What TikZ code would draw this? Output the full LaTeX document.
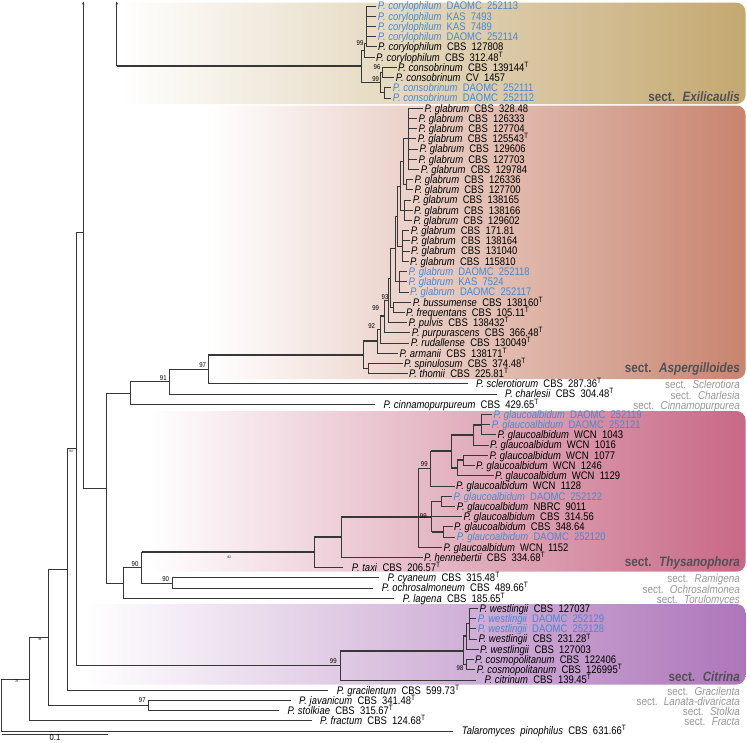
\documentclass[tikz,border=0pt]{standalone}
\usepackage{xcolor}
\usepackage{fontspec}
\setmainfont{Liberation Sans}[FakeStretch=0.86,WordSpace=2]
\usepackage{tikz}
\usetikzlibrary{arrows.meta}

\definecolor{branchcol}{RGB}{55,55,55}
\definecolor{cultblue}{RGB}{72,136,206}
\definecolor{secdark}{RGB}{80,80,85}
\definecolor{secgrey}{RGB}{150,150,150}
\definecolor{exilcol}{RGB}{196,168,112}
\definecolor{aspcol}{RGB}{200,132,110}
\definecolor{thyscol}{RGB}{200,104,134}
\definecolor{citcol}{RGB}{174,118,186}

% 行号 -> 纵坐标
\newcommand\ry[1]{6+10.21*(#1)}
\newcommand\pen[1]{\textit{P.\hspace{.25em}#1}}
\newcommand\typ{\textsuperscript{T}}

\begin{document}
\begin{tikzpicture}[
    x=1pt, y=-1pt,
    br/.style={draw=branchcol, line width=0.7pt},
    brk/.style={draw=branchcol, line width=2pt},
    tip/.style={anchor=west, inner xsep=1.5pt, inner ysep=0pt, text height=7.9pt, text depth=0pt, font=\fontsize{11}{12}\selectfont},
    tipb/.style={tip, text=cultblue},
    boot/.style={inner sep=0pt, font=\fontsize{7}{8}\selectfont},
    bootmini/.style={inner sep=0pt, font=\fontsize{3.5}{4}\selectfont},
    secbig/.style={anchor=east, inner sep=0pt, text height=9.7pt, text depth=0pt, text=secdark, font=\fontsize{13.6}{15}\selectfont\bfseries},
    secsmall/.style={anchor=east, inner sep=0pt, text height=8.2pt, text depth=0pt, text=secgrey, font=\fontsize{11.5}{13}\selectfont},
    cladebg/.style={rounded corners=9pt, left color=white}
]

\useasboundingbox (0,0) rectangle (747,742);

% 分组背景（渐变）
\shade[cladebg, right color=exilcol]  (120,2.7)   rectangle (745.5,104);
\shade[cladebg, right color=aspcol]   (210,105.5) rectangle (745.5,379);
\shade[cladebg, right color=thyscol]  (150,411)   rectangle (745.5,571.7);
\shade[cladebg, right color=citcol]   (85,604)    rectangle (745.5,684.5);

% 末端标签
\node[tipb] (t0) at (376.2,{\ry{0}}) {\pen{corylophilum} DAOMC 252113};
\node[tipb] (t1) at (376.2,{\ry{1}}) {\pen{corylophilum} KAS 7493};
\node[tipb] (t2) at (376.2,{\ry{2}}) {\pen{corylophilum} KAS 7489};
\node[tipb] (t3) at (376.2,{\ry{3}}) {\pen{corylophilum} DAOMC 252114};
\node[tip]  (t4) at (376.5,{\ry{4}}) {\pen{corylophilum} CBS 127808};
\node[tip]  (t5) at (374.5,{\ry{5}}) {\pen{corylophilum} CBS 312.48\typ};
\node[tip]  (t6) at (396.5,{\ry{6}}) {\pen{consobrinum} CBS 139144\typ};
\node[tip]  (t7) at (394.2,{\ry{7}}) {\pen{consobrinum} CV 1457};
\node[tipb] (t8) at (391.2,{\ry{8}}) {\pen{consobrinum} DAOMC 252111};
\node[tipb] (t9) at (391.2,{\ry{9}}) {\pen{consobrinum} DAOMC 252112};
\node[tip] (t10) at (422.8,{\ry{10}}) {\pen{glabrum} CBS 328.48};
\node[tip] (t11) at (416.8,{\ry{11}}) {\pen{glabrum} CBS 126333};
\node[tip] (t12) at (416.8,{\ry{12}}) {\pen{glabrum} CBS 127704};
\node[tip] (t13) at (416.2,{\ry{13}}) {\pen{glabrum} CBS 125543\typ};
\node[tip] (t14) at (417.8,{\ry{14}}) {\pen{glabrum} CBS 129606};
\node[tip] (t15) at (416.8,{\ry{15}}) {\pen{glabrum} CBS 127703};
\node[tip] (t16) at (419.2,{\ry{16}}) {\pen{glabrum} CBS 129784};
\node[tip] (t17) at (412.8,{\ry{17}}) {\pen{glabrum} CBS 126336};
\node[tip] (t18) at (412.8,{\ry{18}}) {\pen{glabrum} CBS 127700};
\node[tip] (t19) at (411.2,{\ry{19}}) {\pen{glabrum} CBS 138165};
\node[tip] (t20) at (412.5,{\ry{20}}) {\pen{glabrum} CBS 138166};
\node[tip] (t21) at (411.8,{\ry{21}}) {\pen{glabrum} CBS 129602};
\node[tip] (t22) at (409.2,{\ry{22}}) {\pen{glabrum} CBS 171.81};
\node[tip] (t23) at (409.5,{\ry{23}}) {\pen{glabrum} CBS 138164};
\node[tip] (t24) at (409.5,{\ry{24}}) {\pen{glabrum} CBS 131040};
\node[tip] (t25) at (408.5,{\ry{25}}) {\pen{glabrum} CBS 115810};
\node[tipb] (t26) at (406.8,{\ry{26}}) {\pen{glabrum} DAOMC 252118};
\node[tipb] (t27) at (406.8,{\ry{27}}) {\pen{glabrum} KAS 7524};
\node[tipb] (t28) at (408.5,{\ry{28}}) {\pen{glabrum} DAOMC 252117};
\node[tip] (t29) at (411.2,{\ry{29}}) {\pen{bussumense} CBS 138160\typ};
\node[tip] (t30) at (404.5,{\ry{30}}) {\pen{frequentans} CBS 105.11\typ};
\node[tip] (t31) at (406.8,{\ry{31}}) {\pen{pulvis} CBS 138432\typ};
\node[tip] (t32) at (410.2,{\ry{32}}) {\pen{purpurascens} CBS 366.48\typ};
\node[tip] (t33) at (409.2,{\ry{33}}) {\pen{rudallense} CBS 130049\typ};
\node[tip] (t34) at (397.8,{\ry{34}}) {\pen{armanii} CBS 138171\typ};
\node[tip] (t35) at (402.5,{\ry{35}}) {\pen{spinulosum} CBS 374.48\typ};
\node[tip] (t36) at (407.5,{\ry{36}}) {\pen{thomii} CBS 225.81\typ};
\node[tip] (t37) at (474.5,{\ry{37}}) {\pen{sclerotiorum} CBS 287.36\typ};
\node[tip] (t38) at (503.5,{\ry{38}}) {\pen{charlesii} CBS 304.48\typ};
\node[tip] (t39) at (381.8,{\ry{39}}) {\pen{cinnamopurpureum} CBS 429.65\typ};
\node[tipb] (t40) at (491.8,{\ry{40}}) {\pen{glaucoalbidum} DAOMC 252119};
\node[tipb] (t41) at (490.2,{\ry{41}}) {\pen{glaucoalbidum} DAOMC 252121};
\node[tip] (t42) at (495.8,{\ry{42}}) {\pen{glaucoalbidum} WCN 1043};
\node[tip] (t43) at (488.5,{\ry{43}}) {\pen{glaucoalbidum} WCN 1016};
\node[tip] (t44) at (487.8,{\ry{44}}) {\pen{glaucoalbidum} WCN 1077};
\node[tip] (t45) at (474.5,{\ry{45}}) {\pen{glaucoalbidum} WCN 1246};
\node[tip] (t46) at (493.5,{\ry{46}}) {\pen{glaucoalbidum} WCN 1129};
\node[tip] (t47) at (454.5,{\ry{47}}) {\pen{glaucoalbidum} WCN 1128};
\node[tipb] (t48) at (451.8,{\ry{48}}) {\pen{glaucoalbidum} DAOMC 252122};
\node[tip] (t49) at (455.2,{\ry{49}}) {\pen{glaucoalbidum} NBRC 9011};
\node[tip] (t50) at (461.8,{\ry{50}}) {\pen{glaucoalbidum} CBS 314.56};
\node[tip] (t51) at (452.5,{\ry{51}}) {\pen{glaucoalbidum} CBS 348.64};
\node[tipb] (t52) at (455.2,{\ry{52}}) {\pen{glaucoalbidum} DAOMC 252120};
\node[tip] (t53) at (441.8,{\ry{53}}) {\pen{glaucoalbidum} WCN 1152};
\node[tip] (t54) at (422.5,{\ry{54}}) {\pen{hennebertii} CBS 334.68\typ};
\node[tip] (t55) at (350.2,{\ry{55}}) {\pen{taxi} CBS 206.57\typ};
\node[tip] (t56) at (385.8,{\ry{56}}) {\pen{cyaneum} CBS 315.48\typ};
\node[tip] (t57) at (380.2,{\ry{57}}) {\pen{ochrosalmoneum} CBS 489.66\typ};
\node[tip] (t58) at (401.2,{\ry{58}}) {\pen{lagena} CBS 185.65\typ};
\node[tip] (t59) at (477.8,{\ry{59}}) {\pen{westlingii} CBS 127037};
\node[tipb] (t60) at (476.2,{\ry{60}}) {\pen{westlingii} DAOMC 252129};
\node[tipb] (t61) at (476.2,{\ry{61}}) {\pen{westlingii} DAOMC 252128};
\node[tip] (t62) at (476.8,{\ry{62}}) {\pen{westlingii} CBS 231.28\typ};
\node[tip] (t63) at (478.5,{\ry{63}}) {\pen{westlingii} CBS 127003};
\node[tip] (t64) at (473.5,{\ry{64}}) {\pen{cosmopolitanum} CBS 122406};
\node[tip] (t65) at (475.2,{\ry{65}}) {\pen{cosmopolitanum} CBS 126995\typ};
\node[tip] (t66) at (482.8,{\ry{66}}) {\pen{citrinum} CBS 139.45\typ};
\node[tip] (t67) at (335.2,{\ry{67}}) {\pen{gracilentum} CBS 599.73\typ};
\node[tip] (t68) at (297.5,{\ry{68}}) {\pen{javanicum} CBS 341.48\typ};
\node[tip] (t69) at (285.8,{\ry{69}}) {\pen{stolkiae} CBS 315.67\typ};
\node[tip] (t70) at (318.5,{\ry{70}}) {\pen{fractum} CBS 124.68\typ};
\node[tip] (t71) at (460.2,{\ry{71}}) {\textit{Talaromyces pinophilus} CBS 631.66\typ};

% 内部节点
\coordinate (Cy1) at (366,43);
\coordinate (Cy)  at (364,50);
\coordinate (K1)  at (382,{\ry{6.5}});
\coordinate (K2)  at (384,{\ry{8.5}});
\coordinate (K)   at (380,{\ry{7.5}});
\coordinate (E0)  at (361,66);
\coordinate (Ex)  at (116.7,66);
\coordinate (Extop) at (116.7,1.5);

\coordinate (G1e) at (408,{\ry{13}});
\coordinate (G1f) at (406,{\ry{17.5}});
\coordinate (G1c) at (403,{\ry{15.25}});
\coordinate (G1d) at (404,{\ry{20}});
\coordinate (G1a) at (400,{\ry{17.625}});
\coordinate (G1b) at (402,{\ry{23.5}});
\coordinate (G1)  at (397,{\ry{20.56}});
\coordinate (GB)  at (399,{\ry{27}});
\coordinate (G)   at (395,{\ry{23.78}});
\coordinate (A6)  at (393,{\ry{29.5}});
\coordinate (A5)  at (390,{\ry{26.64}});
\coordinate (A4)  at (388,{\ry{28.82}});
\coordinate (A3)  at (384,{\ry{30.41}});
\coordinate (A2)  at (380,{\ry{31.7}});
\coordinate (A1)  at (377,{\ry{32.85}});
\coordinate (AL)  at (368,{\ry{35.5}});
\coordinate (A0)  at (363,{\ry{34.18}});
\coordinate (N97) at (208,{\ry{35.59}});
\coordinate (N91) at (169,{\ry{36.8}});
\coordinate (N130) at (130,{\ry{37.9}});

\coordinate (T8)  at (481.7,{\ry{41}});
\coordinate (T6)  at (473.3,{\ry{42}});
\coordinate (T10) at (463.3,{\ry{44.5}});
\coordinate (T7)  at (457.3,{\ry{45.25}});
\coordinate (T5)  at (451.7,{\ry{43.625}});
\coordinate (T3)  at (430.7,{\ry{45.31}});
\coordinate (B1)  at (441.7,{\ry{48.5}});
\coordinate (B2)  at (443,{\ry{51.5}});
\coordinate (TB)  at (431.7,{\ry{50}});
\coordinate (T2)  at (418.3,{\ry{50}});
\coordinate (T1)  at (341.7,{\ry{52}});
\coordinate (TX)  at (314,{\ry{53.5}});
\coordinate (N90b) at (172,{\ry{56.5}});
\coordinate (R8)  at (141.7,{\ry{55}});
\coordinate (R7)  at (123.3,{\ry{56.5}});
\coordinate (R6)  at (106.3,{\ry{47.2}});
\coordinate (R5)  at (83.3,{\ry{22.16}});
\coordinate (R5top) at (83.3,1.5);

\coordinate (WX)  at (469,{\ry{60.5}});
\coordinate (WN)  at (466,{\ry{61.75}});
\coordinate (CM)  at (466,{\ry{64.5}});
\coordinate (W)   at (463.3,{\ry{63.125}});
\coordinate (CI)  at (340,{\ry{64.5625}});
\coordinate (R4)  at (76.7,{\ry{43.36}});
\coordinate (R3)  at (67.3,{\ry{55.18}});
\coordinate (JV)  at (148,{\ry{68.5}});
\coordinate (R2)  at (48.7,{\ry{61.84}});
\coordinate (R1)  at (29.3,{\ry{65.92}});
\coordinate (R0)  at (1.7,{\ry{68.46}});

% 内部分支
\foreach \p/\c in {E0/Cy, E0/K, Cy/Cy1, K/K1, K/K2,
    N130/N91, N91/N97, A0/AL, A1/A2, A3/A4, A4/A5, A5/G, A5/A6,
    G/G1, G/GB, G1/G1a, G1/G1b, G1a/G1c, G1a/G1d, G1c/G1e, G1c/G1f,
    R0/R1, R1/R2, R2/R3, R2/JV, R3/R4, R4/R5, R4/CI, R5/R6, R6/N130,
    R6/R7, R7/R8, R8/N90b, T2/T3, TB/B1, W/CM, WN/WX} {
    \draw[br] (\p) |- (\c);
}
% 高支持率（粗线）
\foreach \p/\c in {N97/A0, A0/A1, A2/A3, R8/TX, TX/T1, T1/T2, T2/TB,
    TB/B2, T3/T5, T5/T6, T5/T7, T6/T8, T7/T10, CI/W, W/WN} {
    \draw[br] (\p) |- (\c);
    \draw[brk] (\p |- \c) -- (\c);
}
\draw[brk] (Ex) -- (E0);
\draw[br, -{Stealth[length=3pt, width=2.5pt]}] (Ex) -- (Extop);
\draw[br, -{Stealth[length=3pt, width=2.5pt]}] (R5) -- (R5top);

% 末端分支
\foreach \p/\i in {Cy1/0, Cy1/1, Cy1/2, Cy1/3, Cy1/4, Cy/5, K1/6, K1/7, K2/8, K2/9,
    G1e/10, G1e/11, G1e/12, G1e/13, G1e/14, G1e/15, G1e/16, G1f/17, G1f/18,
    G1d/19, G1d/20, G1d/21, G1b/22, G1b/23, G1b/24, G1b/25, GB/26, GB/27, GB/28,
    A6/29, A6/30, A4/31, A3/32, A2/33, A1/34, AL/35, AL/36,
    T8/40, T8/41, T8/42, T6/43, T10/44, T10/45, T7/46, T3/47, B1/48, B1/49,
    TB/50, B2/51, B2/52, T2/53, T1/54,
    WX/59, WX/60, WX/61, WX/62, WN/63, CM/64, CM/65} {
    \draw[br] (\p) |- (t\i.west);
}
\foreach \p/\i in {N97/37, N91/38, N130/39, TX/55, N90b/56, N90b/57, R7/58,
    CI/66, R3/67, JV/68, JV/69, R1/70, R0/71} {
    \draw[br, shorten >=7pt] (\p) |- (t\i.west);
}

% 支持率
\node[boot] (bCy)  at (360,42.7)   {99};
\node[boot] (bK1)  at (377,67.5)   {96};
\node[boot] (bK)   at (375.7,79)   {99};
\node[boot] (bA5)  at (385,296.7)  {93};
\node[boot] (bA4)  at (375.7,308.3) {99};
\node[boot] (bA2)  at (371.7,326)  {92};
\node[boot] (bN97) at (202.7,365)  {97};
\node[boot] (bN91) at (163.3,377.7) {91};
\node[boot] (bR8)  at (135,564)    {90};
\node[boot] (bN90) at (165.7,578.7) {90};
\node[boot] (bJV)  at (142.3,700)  {97};
\node[boot] (bT3)  at (424.3,464.3) {99};
\node[boot] (bTB)  at (423.3,516)  {99};
\node[boot] (bCI)  at (333.3,661)  {99};
\node[boot] (bCM)  at (460,668.3)  {98};
\node[bootmini] (mR4) at (71,451.7)   {94};
\node[bootmini] (mR2) at (40,639.3)   {94};
\node[bootmini] (mR1) at (16.7,681.7) {76};
\node[bootmini] (mTX) at (229.3,557.3) {82};

% 组名
\node[secbig] (sExil) at (740,96.7)  {sect. \textit{Exilicaulis}};
\node[secbig] (sAsp)  at (740,368)   {sect. \textit{Aspergilloides}};
\node[secbig] (sThys) at (740,562)   {sect. \textit{Thysanophora}};
\node[secbig] (sCit)  at (740,676.3) {sect. \textit{Citrina}};
\node[secsmall] (sScl) at (740,{\ry{37}+1}) {sect. \textit{Sclerotiora}};
\node[secsmall] (sCha) at (740,{\ry{38}+1}) {sect. \textit{Charlesia}};
\node[secsmall] (sCin) at (740,{\ry{39}+1}) {sect. \textit{Cinnamopurpurea}};
\node[secsmall] (sRam) at (740,{\ry{56}+1}) {sect. \textit{Ramigena}};
\node[secsmall] (sOch) at (740,{\ry{57}+1}) {sect. \textit{Ochrosalmonea}};
\node[secsmall] (sTor) at (740,{\ry{58}+1}) {sect. \textit{Torulomyces}};
\node[secsmall] (sGra) at (740,{\ry{67}+1}) {sect. \textit{Gracilenta}};
\node[secsmall] (sLan) at (740,{\ry{68}+1}) {sect. \textit{Lanata-divaricata}};
\node[secsmall] (sSto) at (740,{\ry{69}+1}) {sect. \textit{Stolkia}};
\node[secsmall] (sFra) at (740,{\ry{70}+1}) {sect. \textit{Fracta}};

% 标尺
\coordinate (sbL) at (1.7,734);
\coordinate (sbR) at (108.3,734);
\draw[br] (sbL) -- (sbR);
\node[inner sep=0pt, text height=6.3pt, text depth=0pt, font=\fontsize{8.8}{10}\selectfont] (sbLab) at (55,737.6) {0.1};

\end{tikzpicture}
\end{document}
